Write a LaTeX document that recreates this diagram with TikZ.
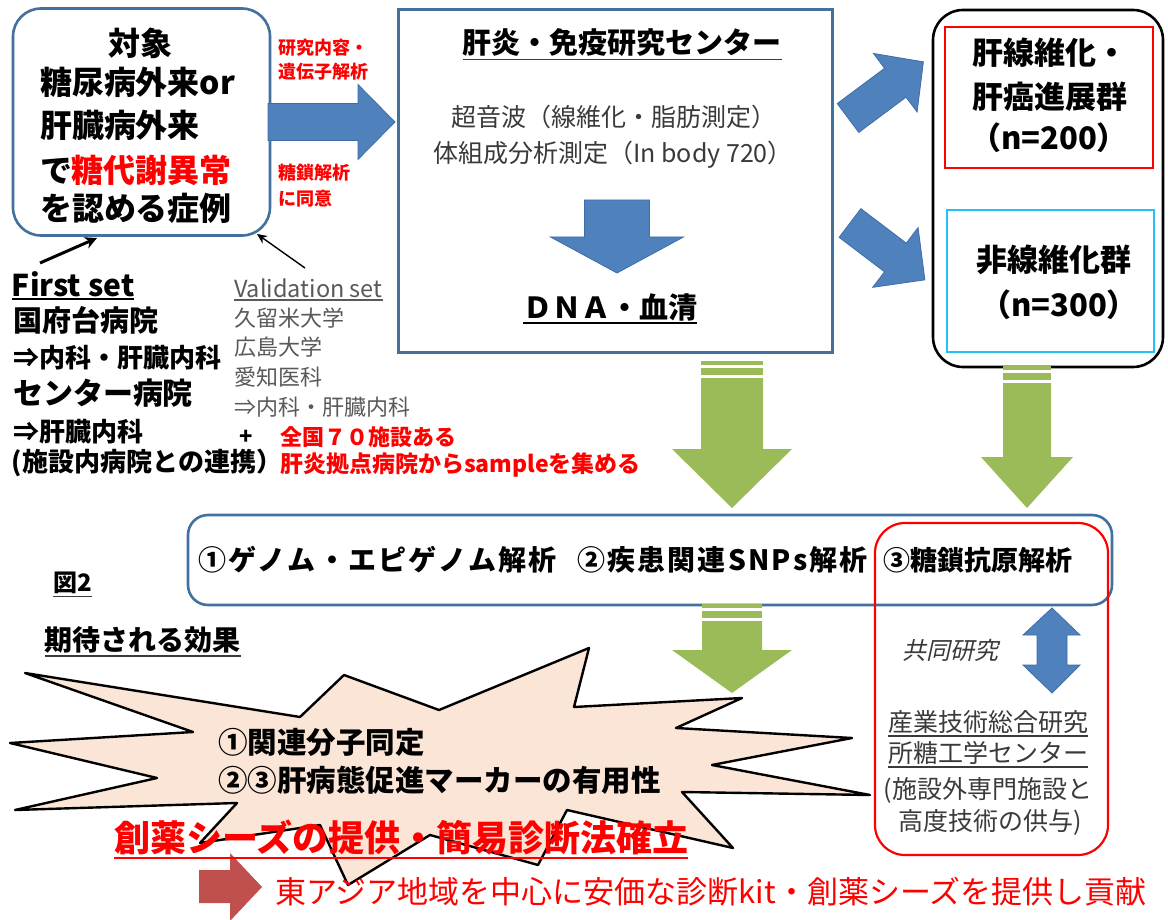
\documentclass[tikz,border=0pt]{standalone}
\usepackage{fontspec}
\setmainfont{Noto Sans CJK JP}
\newfontfamily\jpslant{Noto Sans CJK JP}[FakeSlant=0.22]
\newfontfamily\jpwide{Noto Sans CJK JP}[LetterSpace=8]
\usetikzlibrary{arrows.meta,calc}
\definecolor{boxblue}{HTML}{41719C}
\definecolor{arrowblue}{HTML}{4F81BD}
\definecolor{arrowedge}{HTML}{3E6DA8}
\definecolor{leafgreen}{HTML}{9BBB59}
\definecolor{hotred}{HTML}{FF0000}
\definecolor{brickred}{HTML}{C0504D}
\definecolor{peach}{HTML}{FBE5D6}
\definecolor{skycyan}{HTML}{22C3F3}
\definecolor{txtgray}{HTML}{3A3A3A}
\definecolor{valgray}{HTML}{595959}
\newcommand\fsz[1]{\fontsize{#1}{#1}\selectfont}
% block arrow: tail, angle, length, shaft width, head width, head length, style
\newcommand\blockarrow[7]{\begin{scope}[shift={#1},rotate=#2]
 \filldraw[#7] (0,-#4/2) -- (#3-#6,-#4/2) -- (#3-#6,-#5/2) -- (#3,0) -- (#3-#6,#5/2) -- (#3-#6,#4/2) -- (0,#4/2) -- cycle;
\end{scope}}
% striped green arrow: cx, ytop, shaft half, head half, head base y, tip y
\newcommand\greenarrow[6]{%
 \fill[leafgreen] (#1-#3,#2) rectangle (#1+#3,#2+4);
 \fill[leafgreen] (#1-#3,#2+7) rectangle (#1+#3,#2+14);
 \fill[leafgreen] (#1-#3,#2+17) -- (#1-#3,#5) -- (#1-#4,#5) -- (#1,#6) -- (#1+#4,#5) -- (#1+#3,#5) -- (#1+#3,#2+17) -- cycle;}
\newcommand\ul[3]{\draw[#2,line width=#3] ([yshift=-2.5pt]#1.south west) -- ([yshift=-2.5pt]#1.south east);}
\begin{document}
\begin{tikzpicture}[x=1pt,y=-1pt,
  txt/.style={inner sep=0pt, outer sep=0pt, anchor=west},
  ctxt/.style={inner sep=0pt, outer sep=0pt},
  bluearrow/.style={fill=arrowblue, draw=arrowedge, line width=0.8pt},
  bluebox/.style={draw=boxblue, line width=2.6pt, inner sep=0pt},
  linkarrow/.style={-{Stealth[length=12pt,width=12pt]}}]
\useasboundingbox (0,0) rectangle (1168,920);
\fill[white] (0,0) rectangle (1168,920);

% ---------- boxes ----------
\node[bluebox, rounded corners=28pt, minimum width=257pt, minimum height=227pt] (target) at (141.5,122) {};
\node[bluebox, line width=3pt, minimum width=434pt, minimum height=342pt] (center) at (615,181) {};
\node[draw=black, line width=2.6pt, rounded corners=30pt, minimum width=230pt, minimum height=357pt] (groups) at (1048,188.5) {};
\node[draw=hotred, line width=2.6pt, minimum width=208pt, minimum height=141pt] (fibro) at (1049,97.5) {};
\node[draw=skycyan, line width=2.6pt, minimum width=207pt, minimum height=142pt] (nonfibro) at (1050.5,281) {};
\node[bluebox, rounded corners=20pt, minimum width=924pt, minimum height=90pt] (analysis) at (650,560) {};
\node[draw=hotred, line width=2.2pt, rounded corners=30pt, minimum width=233pt, minimum height=332pt] (collab) at (991.5,689) {};

% ---------- block arrows ----------
\blockarrow{(268,122)}{0}{127}{37}{75}{37}{bluearrow}
\blockarrow{(617,200)}{-90}{73}{65}{133}{36}{bluearrow}
\blockarrow{(848,118)}{36.7}{94}{36}{73}{35}{bluearrow}
\blockarrow{(850,223)}{-37.2}{94}{36}{75}{37}{bluearrow}
\filldraw[bluearrow] (1052,608) -- (1080,635) -- (1067,635) -- (1067,665) -- (1080,665) -- (1052,693) -- (1023,665) -- (1037,665) -- (1037,635) -- (1023,635) -- cycle;

\greenarrow{732}{361}{31}{60}{449}{508}
\greenarrow{1027}{366}{24}{46}{457}{508}
\greenarrow{732}{604}{30}{60}{650}{693}

% ---------- star ----------
\filldraw[fill=peach, draw=black, line width=2.4pt, line join=round]
 (25,673) -- (300,717) -- (344,675) -- (439,710) -- (589,648) -- (574,707) -- (742,698) -- (676,728)
 -- (852,738) -- (712,765) -- (870,795) -- (682,792) -- (733,848) -- (567,810) -- (538,865)
 -- (430,835) -- (348,885) -- (320,825) -- (200,843) -- (237,803) -- (15,810) -- (157,778)
 -- (10,743) -- (193,732) -- cycle;

% red arrow
\fill[brickred] (199,870) -- (230,870) -- (230,853) -- (262,887) -- (230,921) -- (230,903) -- (199,903) -- cycle;

% ---------- link arrows ----------
\coordinate (fsTail) at (40,263);
\coordinate (fsTip) at (97,238);
\coordinate (vsTail) at (305,268);
\coordinate (vsTip) at (257,234);
\draw[linkarrow, line width=3pt] (fsTail) -- (fsTip);
\draw[linkarrow, line width=1.4pt, -{Stealth[length=10pt,width=9pt]}] (vsTail) -- (vsTip);

% ---------- texts: target box ----------
\node[ctxt, font=\bfseries\fsz{32}] (tA) at (140,43) {対象};
\node[txt, font=\bfseries\fsz{32}] (tB) at (40,82) {糖尿病外来or};
\node[txt, font=\bfseries\fsz{32}] (tC) at (40,125) {肝臓病外来};
\node[txt, font=\bfseries\fsz{32}] (tD) at (40,170) {で\textcolor{hotred}{糖代謝異常}};
\node[txt, font=\bfseries\fsz{32}] (tE) at (40,208) {を認める症例};

\node[txt, font=\bfseries\fsz{18}, text=hotred] (r1) at (278,48) {研究内容・};
\node[txt, font=\bfseries\fsz{18}, text=hotred] (r2) at (278,72) {遺伝子解析};
\node[txt, font=\bfseries\fsz{18}, text=hotred] (r3) at (278,173) {糖鎖解析};
\node[txt, font=\bfseries\fsz{18}, text=hotred] (r4) at (278,199) {に同意};

% ---------- left lists ----------
\node[txt, font=\bfseries\fsz{30}] (fs) at (12,284) {First set};
\ul{fs}{black}{1.6pt}
\node[txt, font=\bfseries\fsz{29}] (h1) at (13,320) {国府台病院};
\node[txt, font=\bfseries\fsz{26}] (h2) at (13,358) {⇒内科・肝臓内科};
\node[txt, font=\bfseries\fsz{30}] (h3) at (13,393) {センター病院};
\node[txt, font=\bfseries\fsz{26}] (h4) at (13,432) {⇒肝臓内科};
\node[txt, font=\bfseries\fsz{26}] (h5) at (12,463) {(施設内病院との連携）};

\node[txt, font=\fsz{23.5}, text=valgray] (vs) at (234,288) {Validation set};
\ul{vs}{valgray}{1.2pt}
\node[txt, font=\fsz{22}, text=valgray] (v1) at (234,318) {久留米大学};
\node[txt, font=\fsz{22}, text=valgray] (v2) at (234,347) {広島大学};
\node[txt, font=\fsz{22}, text=valgray] (v3) at (234,377) {愛知医科};
\node[txt, font=\fsz{22}, text=valgray] (v4) at (234,407) {⇒内科・肝臓内科};
\node[ctxt, font=\bfseries\fsz{22}] (plus) at (246,437) {+};
\node[txt, font=\bfseries\fsz{22}, text=hotred] (n1) at (280,437) {全国７０施設ある};
\node[txt, font=\bfseries\fsz{23}, text=hotred] (n2) at (280,465) {肝炎拠点病院からsampleを集める};

% ---------- center box texts ----------
\node[ctxt, font=\bfseries\fsz{29}] (ct) at (622,43) {肝炎・免疫研究センター};
\ul{ct}{txtgray}{1.6pt}
\node[ctxt, font=\fsz{25}, text=txtgray] (c1) at (614,117) {超音波（線維化・脂肪測定）};
\node[ctxt, font=\fsz{25}, text=txtgray] (c2) at (613,155) {体組成分析測定（In body 720）};
\node[ctxt, font=\bfseries\fsz{29}] (dna) at (610,307) {ＤＮＡ・血清};
\ul{dna}{black}{1.6pt}

% ---------- groups ----------
\node[ctxt, font=\bfseries\fsz{31}] (g1) at (1050,53) {肝線維化・};
\node[ctxt, font=\bfseries\fsz{31}] (g2) at (1050,97) {肝癌進展群};
\node[ctxt, font=\bfseries\fsz{31}] (g3) at (1049,138) {（n=200）};
\node[ctxt, font=\bfseries\fsz{31}] (g4) at (1054,260) {非線維化群};
\node[ctxt, font=\bfseries\fsz{31}] (g5) at (1059,305) {（n=300）};

% ---------- analysis ----------
\node[txt, font=\jpwide\bfseries\fsz{28}] (a1) at (198,560) {①ゲノム・エピゲノム解析};
\node[txt, font=\jpwide\bfseries\fsz{28}] (a2) at (577,560) {②疾患関連SNPs解析};
\node[txt, font=\bfseries\fsz{27}] (a3) at (883,560) {③糖鎖抗原解析};

\node[txt, font=\bfseries\fsz{24}] (fig) at (53,583) {図2};
\ul{fig}{txtgray}{1.4pt}
\node[txt, font=\bfseries\fsz{28}] (eff) at (45,640) {期待される効果};
\ul{eff}{txtgray}{1.6pt}

% ---------- collaboration ----------
\node[ctxt, font=\jpslant\fsz{24}, text=txtgray] (jr) at (950,650) {共同研究};
\node[ctxt, font=\fsz{25}, text=txtgray] (k1) at (988,722) {産業技術総合研究};
\ul{k1}{txtgray}{1.2pt}
\node[ctxt, font=\fsz{25}, text=txtgray] (k2) at (988,753) {所糖工学センター};
\ul{k2}{txtgray}{1.2pt}
\node[ctxt, font=\fsz{25}, text=txtgray] (k3) at (988,790) {(施設外専門施設と};
\node[ctxt, font=\fsz{25}, text=txtgray] (k4) at (990,822) {高度技術の供与)};

% ---------- star texts ----------
\node[txt, font=\bfseries\fsz{29.5}] (s1) at (218,742) {①関連分子同定};
\node[txt, font=\bfseries\fsz{29.5}] (s2) at (218,780) {②③肝病態促進マーカーの有用性};
\node[txt, font=\bfseries\fsz{36}, text=hotred] (drug) at (114,838) {創薬シーズの提供・簡易診断法確立};
\ul{drug}{hotred}{1.8pt}
\node[txt, font=\fsz{31}, text=hotred] (asia) at (275,892) {東アジア地域を中心に安価な診断kit・創薬シーズを提供し貢献};
\end{tikzpicture}
\end{document}
